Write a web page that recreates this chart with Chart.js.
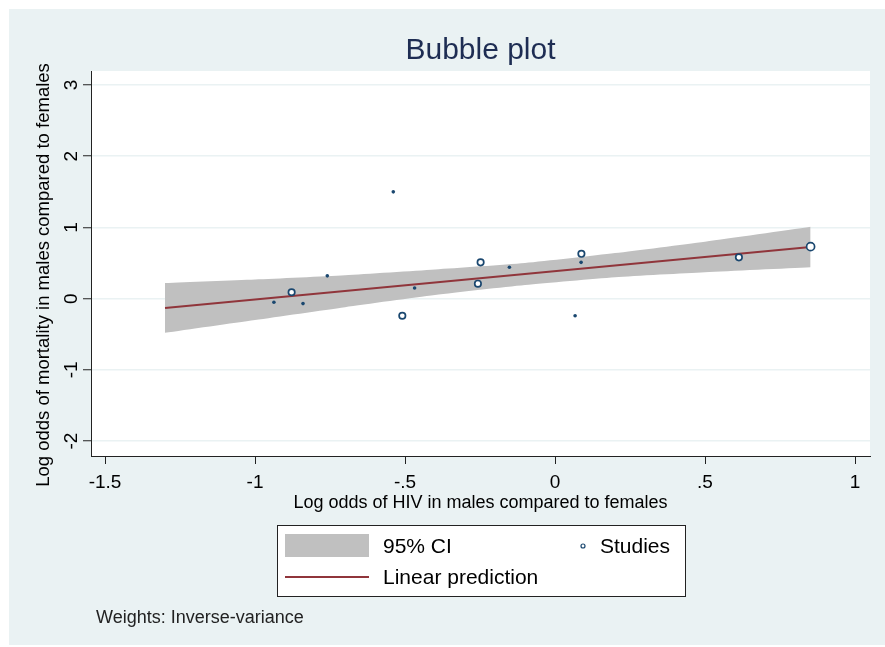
<!DOCTYPE html>
<html>
<head>
<meta charset="utf-8">
<script src="https://cdn.jsdelivr.net/npm/chart.js@4.4.1/dist/chart.umd.min.js"></script>
<style>
  html, body { margin: 0; padding: 0; background: #fff; }
</style>
</head>
<body>
<canvas id="canvas" width="885" height="647"></canvas>
<script>
// studies (log odds HIV vs log odds mortality), marker radius ~ weight
const studyX = [-0.937, -0.878, -0.840, -0.759, -0.539, -0.509, -0.468, -0.257, -0.248, -0.152, 0.067, 0.087, 0.088, 0.613, 0.852];
const studyY = [-0.05, 0.09, -0.07, 0.32, 1.50, -0.24, 0.15, 0.21, 0.51, 0.44, -0.24, 0.51, 0.63, 0.58, 0.73];
const studyR = [1.8, 3.2, 1.8, 1.8, 1.8, 3.2, 1.8, 3.2, 3.2, 1.8, 1.8, 1.8, 3.2, 3.2, 4.0];

// linear prediction and 95% CI band
const fitX = [-1.3, 0.852];
const fitY = [-0.13, 0.726];
const ciX = [-1.3, -1.0, -0.7, -0.4, -0.1, 0.2, 0.5, 0.852];
const ciUpper = [0.22, 0.27, 0.33, 0.41, 0.50, 0.64, 0.80, 1.01];
const ciLower = [-0.48, -0.30, -0.12, 0.05, 0.19, 0.30, 0.37, 0.44];

// axis ticks
const xTicks = [-1.5, -1, -0.5, 0, 0.5, 1];
const xTickLabels = ['-1.5', '-1', '-.5', '0', '.5', '1'];
const yTicks = [-2, -1, 0, 1, 2, 3];
const yTickLabels = ['-2', '-1', '0', '1', '2', '3'];

const NAVY = '#1A476F';
const MAROON = '#90353B';
const BAND = '#C0C0C0';
const BG = '#EAF2F3';
const FONT = '"Liberation Sans", Arial, sans-serif';

const pts = (xs, ys) => xs.map((x, i) => ({ x: x, y: ys[i] }));

const stataFrame = {
  id: 'stataFrame',
  beforeDraw(chart) {
    const ctx = chart.ctx, a = chart.chartArea;
    ctx.save();
    ctx.fillStyle = '#fff';
    ctx.fillRect(0, 0, chart.width, chart.height);
    ctx.fillStyle = BG;
    ctx.fillRect(9, 9, 876, 636);
    ctx.fillStyle = '#fff';
    ctx.fillRect(a.left, a.top, a.right - a.left, a.bottom - a.top);
    ctx.restore();
  },
  afterDraw(chart) {
    const ctx = chart.ctx, a = chart.chartArea;
    ctx.save();
    // title
    ctx.fillStyle = '#1E2D53';
    ctx.font = '30px ' + FONT;
    ctx.textAlign = 'center';
    ctx.textBaseline = 'middle';
    ctx.fillText('Bubble plot', (a.left + a.right) / 2, 51);

    // y axis title
    ctx.save();
    ctx.translate(44, 275);
    ctx.rotate(-Math.PI / 2);
    ctx.fillStyle = '#000';
    ctx.font = '18.5px ' + FONT;
    ctx.fillText('Log odds of mortality in males compared to females', 0, 0);
    ctx.restore();

    // legend box
    ctx.fillStyle = '#fff';
    ctx.fillRect(277, 525, 409, 72);
    ctx.strokeStyle = '#222';
    ctx.lineWidth = 1;
    ctx.strokeRect(277.5, 525.5, 408, 71);
    ctx.fillStyle = BAND;
    ctx.fillRect(285, 534, 84, 23);
    ctx.strokeStyle = MAROON;
    ctx.lineWidth = 2;
    ctx.beginPath();
    ctx.moveTo(285, 577);
    ctx.lineTo(369, 577);
    ctx.stroke();
    ctx.strokeStyle = NAVY;
    ctx.lineWidth = 1.2;
    ctx.beginPath();
    ctx.arc(583, 546, 2, 0, Math.PI * 2);
    ctx.stroke();
    ctx.fillStyle = '#000';
    ctx.font = '21px ' + FONT;
    ctx.textAlign = 'left';
    ctx.fillText('95% CI', 383, 547);
    ctx.fillText('Studies', 600, 547);
    ctx.fillText('Linear prediction', 383, 578);

    // note
    ctx.font = '18px ' + FONT;
    ctx.fillStyle = '#222';
    ctx.fillText('Weights: Inverse-variance', 96, 618);
    ctx.restore();
  }
};

new Chart(document.getElementById('canvas'), {
  data: {
    datasets: [
      {
        type: 'scatter',
        label: 'Studies',
        data: pts(studyX, studyY),
        pointRadius: studyR,
        pointBorderWidth: studyR.map(r => r > 2 ? 1.7 : 0),
        pointBorderColor: NAVY,
        pointBackgroundColor: studyR.map(r => r > 2 ? '#fff' : NAVY)
      },
      {
        type: 'line',
        label: 'Linear prediction',
        data: pts(fitX, fitY),
        borderColor: MAROON,
        borderWidth: 2,
        pointRadius: 0,
        fill: false
      },
      {
        type: 'line',
        label: '95% CI',
        data: pts(ciX, ciUpper),
        borderWidth: 0,
        borderColor: BAND,
        backgroundColor: BAND,
        pointRadius: 0,
        tension: 0.2,
        fill: '+1'
      },
      {
        type: 'line',
        label: 'lower',
        data: pts(ciX, ciLower),
        borderWidth: 0,
        borderColor: BAND,
        pointRadius: 0,
        tension: 0.2,
        fill: false
      }
    ]
  },
  options: {
    responsive: false,
    animation: false,
    devicePixelRatio: 1,
    layout: { padding: { left: 0, top: 71, right: 15, bottom: 131 } },
    plugins: {
      legend: { display: false },
      tooltip: { enabled: false },
      title: { display: false }
    },
    scales: {
      x: {
        type: 'linear',
        min: -1.5467,
        max: 1.05,
        afterFit: s => { s.height = 60; },
        afterBuildTicks: s => { s.ticks = xTicks.map(v => ({ value: v })); },
        ticks: {
          color: '#000',
          font: { family: FONT, size: 19 },
          padding: 7,
          maxRotation: 0,
          callback: v => xTickLabels[xTicks.indexOf(v)]
        },
        grid: { drawOnChartArea: false, tickLength: 8, tickColor: '#222', tickWidth: 1 },
        border: { color: '#222', width: 1 },
        title: {
          display: true,
          text: 'Log odds of HIV in males compared to females',
          color: '#000',
          font: { family: FONT, size: 18 },
          padding: { top: 0, bottom: 2 }
        }
      },
      y: {
        type: 'linear',
        min: -2.21,
        max: 3.197,
        afterFit: s => { s.width = 91; },
        afterBuildTicks: s => { s.ticks = yTicks.map(v => ({ value: v })); },
        ticks: {
          color: '#000',
          font: { family: FONT, size: 19 },
          padding: 3,
          minRotation: 90,
          maxRotation: 90,
          crossAlign: 'center',
          callback: v => yTickLabels[yTicks.indexOf(v)]
        },
        grid: { color: BG, lineWidth: 1.5, tickLength: 8, tickColor: '#222', tickWidth: 1 },
        border: { color: '#222', width: 1 },
        title: { display: false }
      }
    }
  },
  plugins: [stataFrame]
});
</script>
</body>
</html>
